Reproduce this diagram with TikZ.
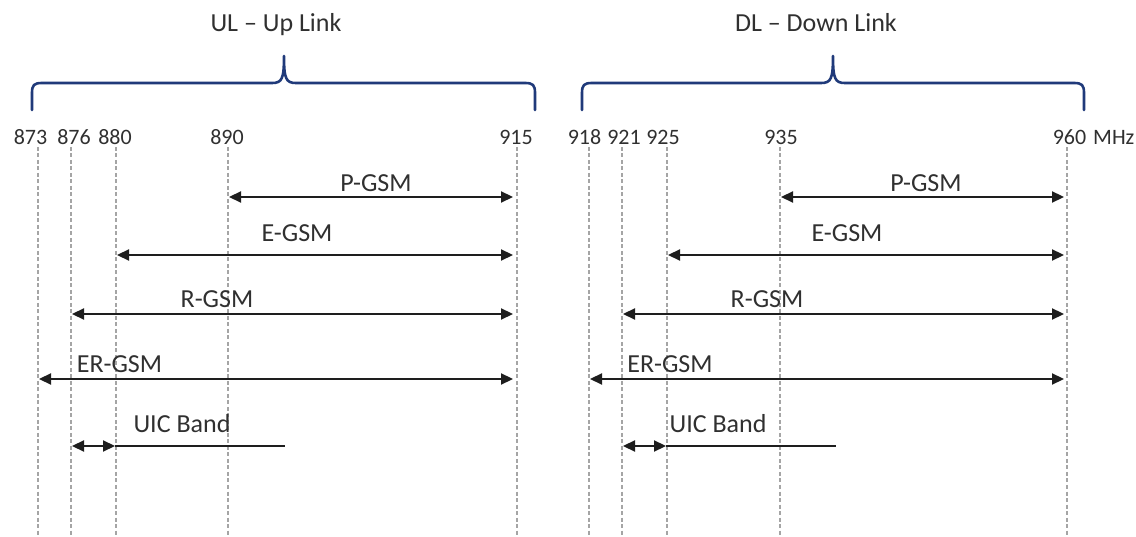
\documentclass[tikz,border=0pt]{standalone}
\usepackage{fontspec}
\setmainfont{Carlito}
\usetikzlibrary{arrows.meta}
\definecolor{bracecol}{RGB}{32,58,122}
\definecolor{textcol}{RGB}{48,48,48}
\definecolor{gridcol}{RGB}{165,165,165}
\definecolor{linecol}{RGB}{30,30,30}
\begin{document}
\begin{tikzpicture}[x=1pt,y=-1pt,
  gridline/.style={draw=gridcol,line width=1.3pt,dash pattern=on 4pt off 2.5pt},
  band/.style={draw=linecol,line width=2.2pt,{Triangle[length=12pt,width=11pt]}-{Triangle[length=12pt,width=11pt]}},
  plainband/.style={draw=linecol,line width=2.2pt},
  bracket/.style={draw=bracecol,line width=2.6pt,line cap=round,line join=round},
  freq/.style={font=\fontsize{22}{24}\selectfont,text=textcol,anchor=base,inner sep=0pt},
  lbl/.style={font=\fontsize{26}{28}\selectfont,text=textcol,anchor=base,inner sep=0pt},
]
\useasboundingbox (0,0) rectangle (1136,537);

% ---- titles ----
\node[lbl] (ul) at (276,32) {UL – Up Link};
\node[lbl] (dl) at (816,32) {DL – Down Link};

% ---- braces ----
\draw[bracket] (32,110) -- (32,93) .. controls (32,85) and (34,83) .. (42,83)
  -- (272,83) .. controls (282,83) and (284,79) .. (284,56)
  .. controls (284,79) and (286,83) .. (296,83)
  -- (525,83) .. controls (533,83) and (535,85) .. (535,93) -- (535,110);
\draw[bracket] (582,110) -- (582,93) .. controls (582,85) and (584,83) .. (592,83)
  -- (821,83) .. controls (831,83) and (833,79) .. (833,56)
  .. controls (833,79) and (835,83) .. (845,83)
  -- (1074,83) .. controls (1082,83) and (1084,85) .. (1084,93) -- (1084,110);

% ---- frequency labels ----
\node[freq] (f873) at (30.5,145) {873};
\node[freq] (f876) at (74,145) {876};
\node[freq] (f880) at (115,145) {880};
\node[freq] (f890) at (227,145) {890};
\node[freq] (f915) at (516,145) {915};
\node[freq] (f918) at (584.5,145) {918};
\node[freq] (f921) at (624,145) {921};
\node[freq] (f925) at (663,145) {925};
\node[freq] (f935) at (781,145) {935};
\node[freq] (f960) at (1069.5,145) {960};
\node[freq,anchor=base west] (mhz) at (1093,145) {MHz};

% ---- dashed frequency markers ----
\foreach \nm/\xx in {873/38,876/71,880/116,890/228,915/517,918/589,921/622,925/667,935/780,960/1067}{
  \coordinate (g\nm t) at (\xx,147);
  \coordinate (g\nm b) at (\xx,537);
  \draw[gridline] (g\nm t) -- (g\nm b);
}

% ---- band end points ----
\coordinate (pUa) at (229,197);  \coordinate (pUb) at (513,197);
\coordinate (eUa) at (117,255);  \coordinate (eUb) at (513,255);
\coordinate (rUa) at (72,314);   \coordinate (rUb) at (513,314);
\coordinate (xUa) at (39,379);   \coordinate (xUb) at (513,379);
\coordinate (uUa) at (72,446);   \coordinate (uUb) at (115,446); \coordinate (uUc) at (285,446);

\coordinate (pDa) at (781,197);  \coordinate (pDb) at (1064,197);
\coordinate (eDa) at (668,255);  \coordinate (eDb) at (1064,255);
\coordinate (rDa) at (623,314);  \coordinate (rDb) at (1064,314);
\coordinate (xDa) at (590,379);  \coordinate (xDb) at (1064,379);
\coordinate (uDa) at (623,446);  \coordinate (uDb) at (666,446); \coordinate (uDc) at (836,446);

% ---- uplink bands ----
\draw[band] (pUa) -- (pUb);
\draw[band] (eUa) -- (eUb);
\draw[band] (rUa) -- (rUb);
\draw[band] (xUa) -- (xUb);
\draw[band] (uUa) -- (uUb);
\draw[plainband] (uUb) -- (uUc);

% ---- downlink bands ----
\draw[band] (pDa) -- (pDb);
\draw[band] (eDa) -- (eDb);
\draw[band] (rDa) -- (rDb);
\draw[band] (xDa) -- (xDb);
\draw[band] (uDa) -- (uDb);
\draw[plainband] (uDb) -- (uDc);

% ---- band names ----
\node[lbl] (pU) at (376,192) {P-GSM};
\node[lbl] (eU) at (297,242) {E-GSM};
\node[lbl] (rU) at (217,308) {R-GSM};
\node[lbl] (xU) at (119.5,373) {ER-GSM};
\node[lbl] (uU) at (182,432) {UIC Band};

\node[lbl] (pD) at (926,192) {P-GSM};
\node[lbl] (eD) at (847,242) {E-GSM};
\node[lbl] (rD) at (767,308) {R-GSM};
\node[lbl] (xD) at (670,373) {ER-GSM};
\node[lbl] (uD) at (718,432) {UIC Band};
\end{tikzpicture}
\end{document}
